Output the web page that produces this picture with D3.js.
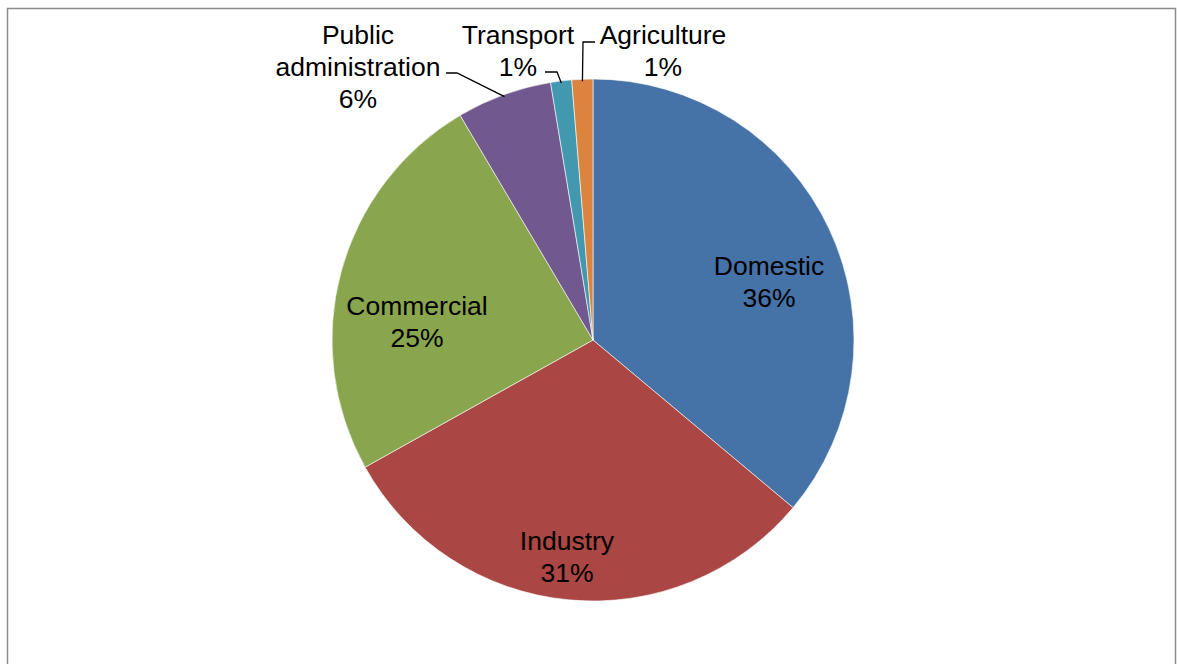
<!DOCTYPE html>
<html>
<head>
<meta charset="utf-8">
<script src="https://cdn.jsdelivr.net/npm/d3@7"></script>
<style>
  html, body { margin: 0; padding: 0; background: #fff; }
  svg { display: block; }
  text { font-family: "Liberation Sans", Arial, sans-serif; fill: #000; }
</style>
</head>
<body>
<svg id="chart" width="1177" height="664"></svg>
<script>
// Energy consumption share by sector
const categories = ["Domestic", "Industry", "Commercial", "Public administration", "Transport", "Agriculture"];
const shares = [36.1, 30.8, 24.6, 5.9, 1.3, 1.3];
const labels = ["36%", "31%", "25%", "6%", "1%", "1%"];
const colors = ["#4572A7", "#AA4643", "#89A54E", "#71588F", "#4198AF", "#DB843D"];

const W = 1177, H = 664;
const cx = 593, cy = 340, R = 261;
const fontSize = 26.5, lineH = 32;

const svg = d3.select("#chart");

// chart area frame
svg.append("rect")
  .attr("x", 7.5).attr("y", 8.5)
  .attr("width", 1168).attr("height", 680)
  .attr("fill", "#fff")
  .attr("stroke", "#8c8c8c")
  .attr("stroke-width", 1.5);

const data = categories.map((c, i) => ({ name: c, value: shares[i], label: labels[i], color: colors[i] }));

const pie = d3.pie().value(d => d.value).sort(null);
const arcs = pie(data);
const arc = d3.arc().innerRadius(0).outerRadius(R);

const g = svg.append("g").attr("transform", `translate(${cx},${cy})`);

g.selectAll("path.slice")
  .data(arcs)
  .join("path")
  .attr("class", "slice")
  .attr("d", arc)
  .attr("fill", d => d.data.color)
  .attr("stroke", "#ffffff")
  .attr("stroke-width", 0.6);

// label placement: inside for large slices, outside with leaders for small ones
const labelPos = {
  "Domestic":              { x: 769, y: 265, lines: ["Domestic"] },
  "Industry":              { x: 567, y: 540, lines: ["Industry"] },
  "Commercial":            { x: 417, y: 305, lines: ["Commercial"] },
  "Public administration": { x: 358, y: 34,  lines: ["Public", "administration"] },
  "Transport":             { x: 518, y: 34,  lines: ["Transport"] },
  "Agriculture":           { x: 663, y: 34,  lines: ["Agriculture"] }
};

// leader lines: label anchor -> elbow -> point on slice edge
const leaders = {
  "Public administration": { from: [446, 73], elbow: [457, 73] },
  "Transport":             { from: [545, 72], elbow: [557, 72] },
  "Agriculture":           { from: [595, 42], elbow: [583, 42] }
};

arcs.forEach(a => {
  const name = a.data.name;
  const L = leaders[name];
  if (!L) return;
  const mid = (a.startAngle + a.endAngle) / 2;
  const r = R - 2;
  const px = cx + r * Math.sin(mid);
  const py = cy - r * Math.cos(mid);
  svg.append("polyline")
    .attr("points", [L.from, L.elbow, [px, py]].map(p => p.join(",")).join(" "))
    .attr("fill", "none")
    .attr("stroke", "#000")
    .attr("stroke-width", 1.3);
});

arcs.forEach(a => {
  const p = labelPos[a.data.name];
  const lines = p.lines.concat([a.data.label]);
  const t = svg.append("text")
    .attr("text-anchor", "middle")
    .attr("font-size", fontSize);
  lines.forEach((ln, i) => {
    t.append("tspan")
      .attr("x", p.x)
      .attr("y", p.y + i * lineH)
      .attr("dy", "0.36em")
      .text(ln);
  });
});
</script>
</body>
</html>
